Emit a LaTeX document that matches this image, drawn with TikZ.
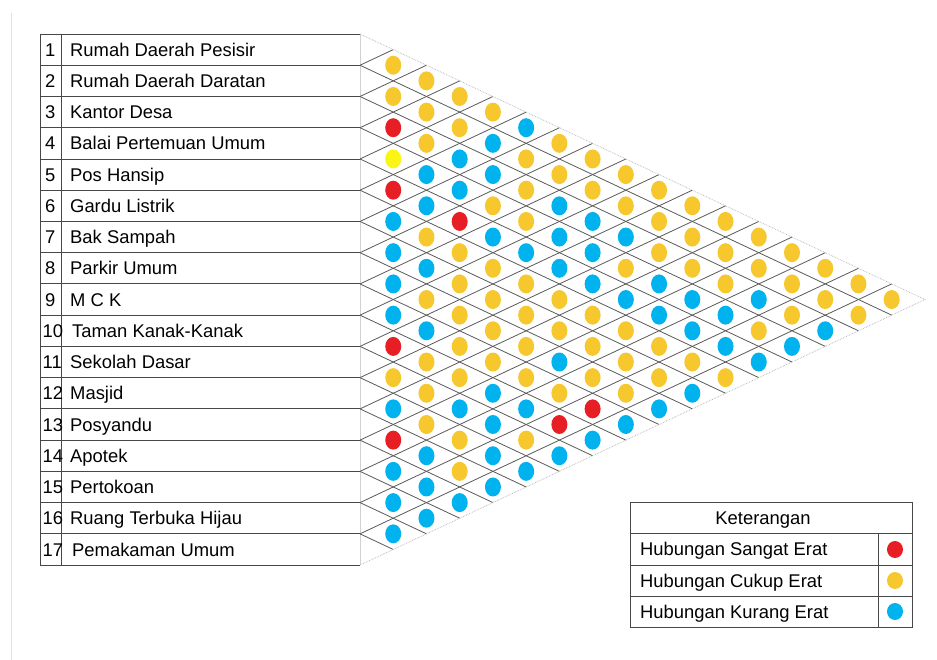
\documentclass[tikz,border=0pt]{standalone}
\usepackage{fontspec}
\setmainfont{Liberation Sans}
\definecolor{cy}{RGB}{246,200,46}
\definecolor{cr}{RGB}{232,30,37}
\definecolor{cb}{RGB}{0,178,238}
\definecolor{cl}{RGB}{250,245,20}
\definecolor{gridgray}{RGB}{90,90,90}
\begin{document}
\begin{tikzpicture}[x=1pt,y=-1pt,
  gridline/.style={draw=gridgray, line width=0.8pt},
  edgeline/.style={draw=black!30, line width=0.7pt, densely dotted},
  tabline/.style={draw=black!72, line width=0.9pt},
  txt/.style={inner sep=0pt, font=\fontsize{18.4}{20}\selectfont},
  lbl/.style={txt, anchor=base west}]
\useasboundingbox (0,0) rectangle (937,660);
\fill[white] (0,0) rectangle (937,660);
\def\xo{360}\def\yo{34}\def\hw{33.23}\def\rh{31.24}

% page edge
\draw[black!12, line width=0.8pt] (11,13) -- (11,660);

% list of rooms
\foreach \k in {0,...,17}
  \draw[tabline] (40,{\yo+\k*\rh}) -- (360,{\yo+\k*\rh});
\draw[tabline] (40,\yo) -- (40,{\yo+17*\rh});
\draw[tabline] (61,\yo) -- (61,{\yo+17*\rh});
\draw[black!18, line width=0.7pt] (\xo,\yo) -- (\xo,{\yo+17*\rh});
\foreach \t [count=\i] in {Rumah Daerah Pesisir, Rumah Daerah Daratan, Kantor Desa,
    Balai Pertemuan Umum, Pos Hansip, Gardu Listrik, Bak Sampah, Parkir Umum,
    M C K, Taman Kanak-Kanak, Sekolah Dasar, Masjid, Posyandu, Apotek,
    Pertokoan, Ruang Terbuka Hijau, Pemakaman Umum} {
  \pgfmathsetmacro{\nx}{\i>9 ? 42.5 : 45}
  \pgfmathsetmacro{\tx}{(\i==10 || \i==17) ? 72 : 70}
  \node[lbl] (num\i) at (\nx,{\yo+(\i-0.5)*\rh+6.6}) {\i};
  \node[lbl] (room\i) at (\tx,{\yo+(\i-0.5)*\rh+6.6}) {\t};
}

% relation grid
\foreach \k in {1,...,16} {
  \draw[gridline] (\xo,{\yo+\k*\rh}) -- ({\xo+(17-\k)*\hw},{\yo+(\k+17)*\rh/2});
  \draw[gridline] (\xo,{\yo+\k*\rh}) -- ({\xo+\k*\hw},{\yo+\k*\rh/2});
}
\draw[edgeline] (\xo,\yo) -- ({\xo+17*\hw},{\yo+8.5*\rh}) -- (\xo,{\yo+17*\rh});

% relation marks
\foreach \i/\j/\c in {
  1/2/cy, 1/3/cy, 2/3/cy, 1/4/cy, 2/4/cy, 1/5/cy, 3/4/cr, 2/5/cy, 1/6/cb,
  3/5/cy, 2/6/cb, 1/7/cy, 4/5/cl, 3/6/cb, 2/7/cy, 1/8/cy, 4/6/cb, 3/7/cb,
  2/8/cy, 1/9/cy, 5/6/cr, 4/7/cb, 3/8/cy, 2/9/cy, 1/10/cy, 5/7/cb, 4/8/cy,
  3/9/cb, 2/10/cy, 1/11/cy, 6/7/cb, 5/8/cr, 4/9/cy, 3/10/cb, 2/11/cy, 1/12/cy,
  6/8/cy, 5/9/cb, 4/10/cb, 3/11/cb, 2/12/cy, 1/13/cy, 7/8/cb, 6/9/cy, 5/10/cb,
  4/11/cb, 3/12/cy, 2/13/cy, 1/14/cy, 7/9/cb, 6/10/cy, 5/11/cb, 4/12/cy,
  3/13/cy, 2/14/cy, 1/15/cy, 8/9/cb, 7/10/cy, 6/11/cy, 5/12/cb, 4/13/cb,
  3/14/cy, 2/15/cy, 1/16/cy, 8/10/cy, 7/11/cy, 6/12/cy, 5/13/cb, 4/14/cb,
  3/15/cb, 2/16/cy, 1/17/cy, 9/10/cb, 8/11/cy, 7/12/cy, 6/13/cy, 5/14/cb,
  4/15/cb, 3/16/cy, 2/17/cy, 9/11/cb, 8/12/cy, 7/13/cy, 6/14/cy, 5/15/cb,
  4/16/cy, 3/17/cb, 10/11/cr, 9/12/cy, 8/13/cy, 7/14/cy, 6/15/cy, 5/16/cb,
  4/17/cb, 10/12/cy, 9/13/cy, 8/14/cb, 7/15/cy, 6/16/cy, 5/17/cb, 11/12/cy,
  10/13/cy, 9/14/cy, 8/15/cy, 7/16/cy, 6/17/cy, 11/13/cy, 10/14/cb, 9/15/cy,
  8/16/cy, 7/17/cb, 12/13/cb, 11/14/cb, 10/15/cb, 9/16/cr, 8/17/cb, 12/14/cy,
  11/15/cb, 10/16/cr, 9/17/cb, 13/14/cr, 12/15/cy, 11/16/cy, 10/17/cb,
  13/15/cb, 12/16/cb, 11/17/cb, 14/15/cb, 13/16/cy, 12/17/cb, 14/16/cb,
  13/17/cb, 15/16/cb, 14/17/cb, 15/17/cb, 16/17/cb}
  \fill[\c] ({\xo+(\j-\i)*\hw},{\yo+((\i+\j)/2-0.5)*\rh}) ellipse [x radius=8, y radius=9.5];

% legend
\draw[tabline] (630,502) rectangle (912,627);
\draw[tabline] (630,533) -- (912,533);
\draw[tabline] (630,565) -- (912,565);
\draw[tabline] (630,596) -- (912,596);
\draw[tabline] (878,533) -- (878,627);
\node[txt, anchor=base] (legtitle) at (763,524) {Keterangan};
\node[lbl] (leg1) at (640,555.6) {Hubungan Sangat Erat};
\node[lbl] (leg2) at (640,587) {Hubungan Cukup Erat};
\node[lbl] (leg3) at (640,618) {Hubungan Kurang Erat};
\fill[cr] (895,549.5) ellipse [x radius=8, y radius=8.5];
\fill[cy] (895,580.5) ellipse [x radius=8, y radius=8.5];
\fill[cb] (895,611.5) ellipse [x radius=8, y radius=8.5];
\end{tikzpicture}
\end{document}
